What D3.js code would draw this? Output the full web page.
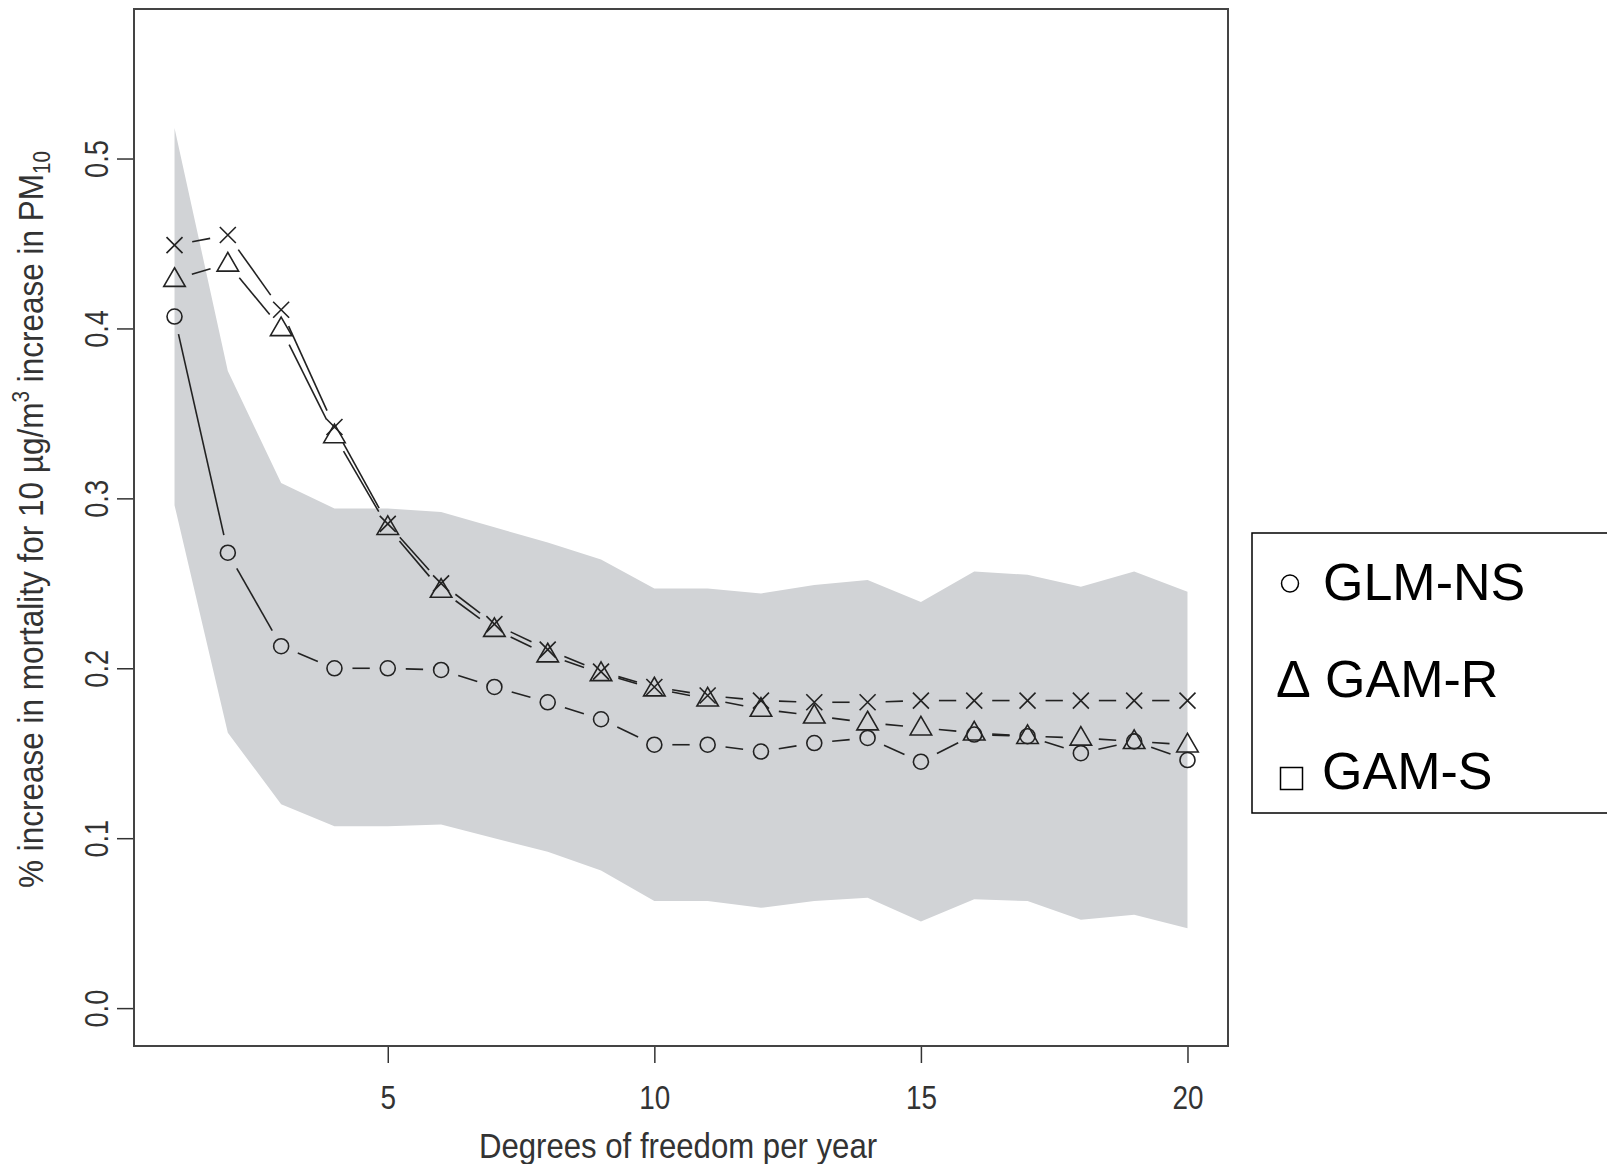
<!DOCTYPE html>
<html>
<head>
<meta charset="utf-8">
<script src="https://cdn.jsdelivr.net/npm/d3@7"></script>
<style>
  body { margin: 0; background: #fff; }
</style>
</head>
<body>
<div id="graph"></div>
<script>
// degrees of freedom per year
const df = [1, 2, 3, 4, 5, 6, 7, 8, 9, 10, 11, 12, 13, 14, 15, 16, 17, 18, 19, 20];

// GLM-NS (circles)
const glmNs = [0.407, 0.268, 0.213, 0.200, 0.200, 0.199, 0.189, 0.180, 0.170, 0.155,
               0.155, 0.151, 0.156, 0.159, 0.145, 0.161, 0.160, 0.150, 0.157, 0.146];
// GAM-R (triangles)
const gamR = [0.429, 0.438, 0.400, 0.337, 0.283, 0.246, 0.223, 0.208, 0.197, 0.188,
              0.182, 0.176, 0.172, 0.168, 0.165, 0.162, 0.160, 0.159, 0.157, 0.155];
// crosses
const gamX = [0.449, 0.455, 0.411, 0.342, 0.285, 0.250, 0.226, 0.211, 0.198, 0.189,
              0.184, 0.181, 0.180, 0.180, 0.181, 0.181, 0.181, 0.181, 0.181, 0.181];

// confidence band
const bandUpper = [0.518, 0.375, 0.309, 0.294, 0.294, 0.292, 0.283, 0.274, 0.264, 0.247,
                   0.247, 0.244, 0.249, 0.252, 0.239, 0.257, 0.255, 0.248, 0.257, 0.245];
const bandLower = [0.296, 0.162, 0.120, 0.107, 0.107, 0.108, 0.100, 0.092, 0.081, 0.063,
                   0.063, 0.059, 0.063, 0.065, 0.051, 0.064, 0.063, 0.052, 0.055, 0.047];

const xTicks = [5, 10, 15, 20];
const yTicks = [0.0, 0.1, 0.2, 0.3, 0.4, 0.5];
const legendLabels = ["GLM-NS", "GAM-R", "GAM-S"];

const width = 1607, height = 1164;
const mLeft = 134, mRight = 1228, mTop = 9, mBottom = 1046;
const ink = "#222";
const font = "'Liberation Sans', Arial, Helvetica, sans-serif";

const svg = d3.select("#graph")
    .append("svg")
    .attr("width", width)
    .attr("height", height)
    .style("background", "#ffffff");

const x = d3.scaleLinear().domain([0.24, 20.76]).range([mLeft, mRight]);
const y = d3.scaleLinear().domain([-0.0223, 0.588]).range([mBottom, mTop]);

// grey band
const band = df.map((d, i) => ({ x: d, lo: bandLower[i], hi: bandUpper[i] }));
svg.append("path")
    .datum(band)
    .attr("d", d3.area().x(d => x(d.x)).y0(d => y(d.lo)).y1(d => y(d.hi)))
    .attr("fill", "#d1d3d6");

// lines with gaps around the points (like type = "b")
const gap = 18;
function drawSeries(values) {
    const pts = df.map((d, i) => [x(d), y(values[i])]);
    const segs = d3.pairs(pts).map(([a, b]) => {
        const dx = b[0] - a[0], dy = b[1] - a[1];
        const len = Math.hypot(dx, dy);
        const ux = dx / len, uy = dy / len;
        return [a[0] + ux * gap, a[1] + uy * gap, b[0] - ux * gap, b[1] - uy * gap, len];
    }).filter(s => s[4] > 2 * gap);
    svg.append("g").selectAll("line")
        .data(segs)
        .enter()
        .append("line")
        .attr("x1", d => d[0]).attr("y1", d => d[1])
        .attr("x2", d => d[2]).attr("y2", d => d[3])
        .attr("stroke", ink)
        .attr("stroke-width", 1.6);
    return pts;
}

const circPts = drawSeries(glmNs);
const triPts = drawSeries(gamR);
const crossPts = drawSeries(gamX);

svg.append("g").selectAll("circle")
    .data(circPts)
    .enter()
    .append("circle")
    .attr("cx", d => d[0])
    .attr("cy", d => d[1])
    .attr("r", 7.5)
    .attr("fill", "none")
    .attr("stroke", ink)
    .attr("stroke-width", 1.6);

const triangle = d3.symbol().type(d3.symbolTriangle).size(200);
svg.append("g").selectAll("path")
    .data(triPts)
    .enter()
    .append("path")
    .attr("d", triangle)
    .attr("transform", d => `translate(${d[0]},${d[1] + 1})`)
    .attr("fill", "none")
    .attr("stroke", ink)
    .attr("stroke-width", 1.6);

svg.append("g").selectAll("path")
    .data(crossPts)
    .enter()
    .append("path")
    .attr("d", d => `M${d[0] - 8},${d[1] - 8}L${d[0] + 8},${d[1] + 8}M${d[0] - 8},${d[1] + 8}L${d[0] + 8},${d[1] - 8}`)
    .attr("stroke", ink)
    .attr("stroke-width", 1.6);

// axes (narrow lettering like the original)
const yAxis = svg.append("g")
    .attr("transform", `translate(${mLeft},0)`)
    .call(d3.axisLeft(y).tickValues(yTicks).tickFormat(d3.format(".1f")).tickSize(17));
yAxis.select(".domain").remove();
yAxis.selectAll("line").attr("stroke", "#333").attr("stroke-width", 1.5);
yAxis.selectAll("text")
    .attr("transform", "translate(-38,0) rotate(-90) scale(0.8,1)")
    .attr("x", 0)
    .attr("y", 0)
    .attr("dy", "0.36em")
    .attr("text-anchor", "middle")
    .attr("font-family", font)
    .attr("font-size", 34)
    .attr("fill", "#333");

const xAxis = svg.append("g")
    .attr("transform", `translate(0,${mBottom})`)
    .call(d3.axisBottom(x).tickValues(xTicks).tickFormat(d3.format("d")).tickSize(17));
xAxis.select(".domain").remove();
xAxis.selectAll("line").attr("stroke", "#333").attr("stroke-width", 1.5);
xAxis.selectAll("text")
    .attr("transform", "translate(0,51) scale(0.82,1)")
    .attr("y", 0)
    .attr("dy", "0.36em")
    .attr("font-family", font)
    .attr("font-size", 34)
    .attr("fill", "#333");

// box
svg.append("rect")
    .attr("x", mLeft).attr("y", mTop)
    .attr("width", mRight - mLeft).attr("height", mBottom - mTop)
    .attr("fill", "none")
    .attr("stroke", "#444")
    .attr("stroke-width", 2);

// axis titles
svg.append("text")
    .attr("transform", `translate(${(mLeft + mRight) / 2 - 3},1158) scale(0.89,1)`)
    .attr("text-anchor", "middle")
    .attr("font-family", font)
    .attr("font-size", 35)
    .attr("fill", "#333")
    .text("Degrees of freedom per year");

const yTitle = svg.append("text")
    .attr("transform", `translate(43,${(mTop + mBottom) / 2 - 8}) rotate(-90) scale(0.9,1)`)
    .attr("text-anchor", "middle")
    .attr("font-family", font)
    .attr("font-size", 35)
    .attr("fill", "#333");
yTitle.append("tspan").text("% increase in mortality for 10 \u00b5g/m");
yTitle.append("tspan").attr("dy", -14).attr("font-size", 23).text("3");
yTitle.append("tspan").attr("dy", 14).text(" increase in PM");
yTitle.append("tspan").attr("dy", 7).attr("font-size", 23).text("10");

// legend
const lg = svg.append("g");
lg.append("rect")
    .attr("x", 1252).attr("y", 533)
    .attr("width", 400).attr("height", 280)
    .attr("fill", "#fff")
    .attr("stroke", "#000")
    .attr("stroke-width", 1.5);
lg.append("circle")
    .attr("cx", 1290).attr("cy", 583.5).attr("r", 8.5)
    .attr("fill", "none").attr("stroke", "#000").attr("stroke-width", 1.5);
lg.append("text")
    .attr("x", 1276).attr("y", 697)
    .attr("font-family", "'Liberation Sans', Arial, sans-serif")
    .attr("font-size", 52)
    .text("\u0394");
lg.append("rect")
    .attr("x", 1280.5).attr("y", 767.5).attr("width", 22).attr("height", 22)
    .attr("fill", "none").attr("stroke", "#000").attr("stroke-width", 1.5);
lg.selectAll("text.lab")
    .data(legendLabels)
    .enter()
    .append("text")
    .attr("class", "lab")
    .attr("x", (d, i) => [1323, 1325, 1322][i])
    .attr("y", (d, i) => [600, 697, 789][i])
    .attr("font-family", "'Liberation Sans', Arial, sans-serif")
    .attr("font-size", 52)
    .attr("fill", "#000")
    .text(d => d);
</script>
</body>
</html>
